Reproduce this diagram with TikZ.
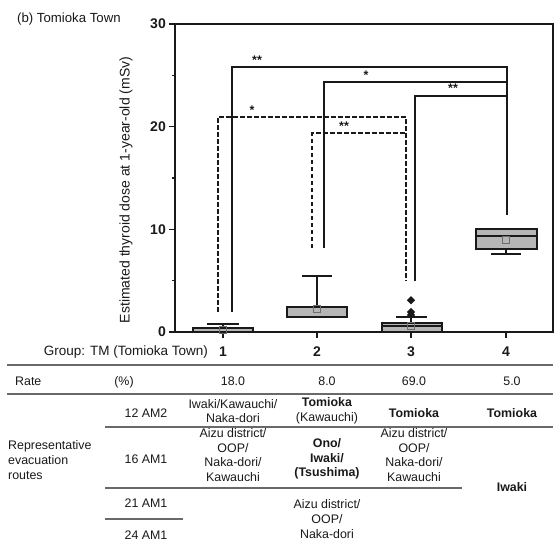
\documentclass[tikz,border=0pt]{standalone}
\usepackage{fontspec}
\setmainfont{Liberation Sans}
\usetikzlibrary{shapes.geometric}
\definecolor{inkgray}{RGB}{25,25,25}
\definecolor{boxgray}{RGB}{182,182,182}
\definecolor{rulegray}{RGB}{105,105,105}
\definecolor{meangray}{RGB}{110,110,110}
\tikzset{
    every node/.append style={
        text=inkgray,
        inner sep=0pt
    },
    plot frame/.style={draw=inkgray, line width=1.3pt},
    dose box/.style={draw=inkgray, fill=boxgray, line width=1.4pt},
    whisker/.style={draw=inkgray, line width=1.3pt},
    mean mark/.style={rectangle, draw=meangray, line width=0.9pt, minimum size=6.5pt},
    outlier/.style={diamond, fill=inkgray, minimum size=8.5pt},
    sig bracket/.style={draw=inkgray, line width=1.5pt},
    sig dashed/.style={sig bracket, dash pattern=on 4.5pt off 2.5pt},
    star label/.style={font=\bfseries\fontsize{12.5}{12.5}\selectfont, anchor=base, yshift=3pt},
    title text/.style={font=\fontsize{13.2}{15}\selectfont},
    group text/.style={font=\fontsize{13.5}{15}\selectfont},
    axis label/.style={font=\fontsize{14}{16}\selectfont},
    tick text/.style={font=\bfseries\fontsize{14}{16}\selectfont},
    table rule/.style={draw=rulegray, line width=1.4pt},
    cell/.style={font=\fontsize{12.4}{14.7}\selectfont, align=center},
    bold cell/.style={font=\bfseries\fontsize{12.4}{14.7}\selectfont, align=center}
}

\begin{document}
\begin{tikzpicture}[x=1pt, y=-1pt]
\useasboundingbox (0,0) rectangle (560,542);
% title and y label
\node[title text, anchor=base west] (title) at (17,22) {(b) Tomioka Town};
\node[axis label, rotate=90] (ylabel) at (126,190) {Estimated thyroid dose at 1-year-old (mSv)};
% frame and x ticks
\draw[plot frame] (175,24) rectangle (553,332);
\node[group text, anchor=base east] (grouplabel) at (208,355) {Group: TM (Tomioka Town)};
\foreach \gx/\gn in {223/1,317/2,411/3,506/4} {
    \draw[plot frame] (\gx,332) -- (\gx,338);
    \node[tick text, anchor=base] (group\gn) at (\gx,356) {\gn};
}
\begin{scope}[shift={(0,332)}, y=10.267pt]
% y ticks
\foreach \v in {0,10,20,30} {
    \draw[plot frame] (169,\v) -- (175,\v);
    \node[tick text, anchor=east] (ytick\v) at (166,\v) {\v};
}
\foreach \v in {5,15,25}
    \draw[plot frame] (172,\v) -- (175,\v);
% boxes
\draw[whisker] (223,0.39) -- (223,0.78) (207,0.78) -- (239,0.78);
\draw[dose box] (193,0) rectangle (253,0.39);
\node[mean mark] (mean1) at (223,0.2) {};
\draw[whisker] (317,2.43) -- (317,5.45) (302,5.45) -- (332,5.45);
\draw[dose box] (287,1.46) rectangle (347,2.43);
\draw[whisker] (287,1.52) -- (347,1.52);
\node[mean mark] (mean2) at (317,2.24) {};
\draw[whisker] (411,0.88) -- (411,1.46) (396,1.46) -- (427,1.46);
\draw[dose box] (382,0) rectangle (442,0.88);
\draw[whisker] (382,0.58) -- (442,0.58);
\node[mean mark] (mean3) at (411,0.58) {};
\node[outlier] (out1) at (411,3.1) {};
\node[outlier] (out2) at (411,1.95) {};
\node[outlier] (out3) at (411,1.65) {};
\draw[whisker] (506,8.08) -- (506,7.6) (491,7.6) -- (521,7.6);
\draw[dose box] (476,8.08) rectangle (537,10.03);
\draw[whisker] (476,9.35) -- (537,9.35);
\node[mean mark] (mean4) at (506,8.96) {};
% significance brackets
\draw[sig bracket] (232,1.95) |- (507,25.8) -- (507,11.4);
\draw[sig bracket] (324,8.18) |- (507,24.35);
\draw[sig bracket] (415,4.97) |- (507,23.0);
\draw[sig dashed] (218,1.95) |- (406,20.94) -- (406,4.97);
\draw[sig dashed] (312,8.18) |- (406,19.38);
\node[star label] (star14) at (257,25.8) {**};
\node[star label] (star24) at (366,24.35) {*};
\node[star label] (star34) at (453,23.0) {**};
\node[star label] (star13) at (252,20.94) {*};
\node[star label] (star23) at (344,19.38) {**};
\end{scope}
% table
\draw[table rule] (7,365) -- (553,365);
\draw[table rule] (7,394) -- (553,394);
\draw[table rule] (105,427) -- (553,427);
\draw[table rule] (105,488) -- (462,488);
\draw[table rule] (105,519) -- (183,519);
\node[cell, anchor=base west] (rate) at (15,385) {Rate};
\node[cell, anchor=base] (pct) at (124,385) {(\%)};
\node[cell, anchor=base] (rate1) at (233,385) {18.0};
\node[cell, anchor=base] (rate2) at (327,385) {8.0};
\node[cell, anchor=base] (rate3) at (414,385) {69.0};
\node[cell, anchor=base] (rate4) at (512,385) {5.0};
\node[cell, align=left, anchor=west] (routes) at (8,460) {Representative\\evacuation\\routes};
\node[cell] (am12) at (146,413) {12 AM2};
\node[cell] (am16) at (146,459) {16 AM1};
\node[cell] (am21) at (146,503) {21 AM1};
\node[cell] (am24) at (146,535) {24 AM1};
\node[cell] (c1r12) at (233,411) {Iwaki/Kawauchi/\\Naka-dori};
\node[cell] (c2r12) at (327,411) {\textbf{Tomioka}\\(Kawauchi)};
\node[bold cell] (c3r12) at (414,413) {Tomioka};
\node[bold cell] (c4r12) at (512,413) {Tomioka};
\node[cell] (c1r16) at (233,455) {Aizu district/\\OOP/\\Naka-dori/\\Kawauchi};
\node[bold cell] (c2r16) at (327,459) {Ono/\\Iwaki/\\(Tsushima)};
\node[cell] (c3r16) at (414,455) {Aizu district/\\OOP/\\Naka-dori/\\Kawauchi};
\node[bold cell] (c4r16) at (512,487) {Iwaki};
\node[cell] (c2r21) at (327,519) {Aizu district/\\OOP/\\Naka-dori};
\end{tikzpicture}
\end{document}
